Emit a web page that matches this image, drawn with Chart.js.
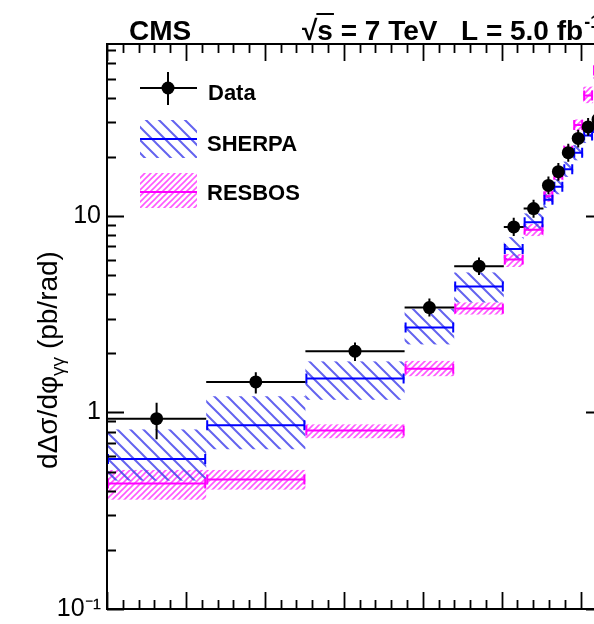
<!DOCTYPE html>
<html>
<head>
<meta charset="utf-8">
<script src="https://cdn.jsdelivr.net/npm/chart.js@4/dist/chart.umd.min.js"></script>
<style>
  body { margin: 0; background: #fff; }
  #wrap { width: 594px; height: 624px; overflow: hidden; position: relative; }
  canvas { display: block; }
</style>
</head>
<body>
<div id="wrap"><canvas id="chart" width="620" height="624"></canvas></div>
<script>
// bin edges of the delta-phi distribution, in units of pi
const binEdgesPi = [0, 0.2, 0.4, 0.6, 0.7, 0.8, 0.84, 0.88, 0.90, 0.92, 0.94, 0.96, 0.98, 1.0]

// measured cross section (pb/rad) with its error band
const dataVals = [0.93, 1.43, 2.05, 3.42, 5.55, 8.8, 10.9, 14.3, 16.8, 21.0, 24.8, 28.4, 31]
const dataLo   = [0.73, 1.25, 1.83, 3.08, 5.0, 7.9, 9.8, 12.9, 15.1, 18.9, 22.3, 25.6, 28]
const dataHi   = [1.12, 1.60, 2.27, 3.80, 6.15, 9.8, 12.1, 15.9, 18.6, 23.3, 27.5, 31.5, 34]

// SHERPA prediction: central value and band
const sherpaVals = [0.58, 0.86, 1.49, 2.71, 4.38, 6.8, 9.3, 12.1, 14.1, 17.3, 21.0, 25.7, 28]
const sherpaLo   = [0.45, 0.65, 1.16, 2.22, 3.63, 6.0, 8.4, 11.0, 12.9, 15.8, 19.2, 23.5, 25.5]
const sherpaHi   = [0.82, 1.21, 1.82, 3.37, 5.16, 7.8, 10.3, 13.3, 15.4, 18.9, 23.0, 28.1, 30.8]

// RESBOS prediction: central value and band
const resbosVals = [0.435, 0.456, 0.81, 1.67, 3.38, 6.0, 8.5, 12.6, 16.2, 21.5, 29, 41, 55]
const resbosLo   = [0.36, 0.405, 0.74, 1.53, 3.15, 5.5, 7.9, 11.8, 15.2, 20.2, 27, 37.5, 50]
const resbosHi   = [0.51, 0.51, 0.87, 1.83, 3.63, 6.4, 9.1, 13.4, 17.3, 22.9, 31, 45.5, 60]

// y axis labels
const yTickVals = [0.1, 1, 10]
const yTickLabels = ['10\u207B\u00B9', '1', '10']

const FONT = '"Liberation Sans", Arial, Helvetica, sans-serif'
const canvas = document.getElementById('chart')
const ctx0 = canvas.getContext('2d')

function hatch(color, size, lw, back) {
  const c = document.createElement('canvas')
  c.width = size; c.height = size
  const g = c.getContext('2d')
  g.strokeStyle = color
  g.lineWidth = lw
  g.beginPath()
  if (back) {
    g.moveTo(-2, -2); g.lineTo(size + 2, size + 2)
    g.moveTo(-2, size - 2); g.lineTo(2, size + 2)
    g.moveTo(size - 2, -2); g.lineTo(size + 2, 2)
  } else {
    g.moveTo(-2, size + 2); g.lineTo(size + 2, -2)
    g.moveTo(-2, 2); g.lineTo(2, -2)
    g.moveTo(size - 2, size + 2); g.lineTo(size + 2, size - 2)
  }
  g.stroke()
  return ctx0.createPattern(c, 'repeat')
}
const bluePattern = hatch('rgba(60,60,235,0.8)', 13, 2, true)
const pinkPattern = hatch('rgba(255,70,255,0.9)', 6, 1.6, false)

const edges = binEdgesPi.map(e => e * Math.PI)
const centers = dataVals.map((v, i) => (edges[i] + edges[i + 1]) / 2)

function drawBand(ctx, x, y, lo, hi, pattern) {
  ctx.fillStyle = pattern
  for (let i = 0; i < lo.length; i++) {
    const xl = x.getPixelForValue(edges[i])
    const xr = x.getPixelForValue(edges[i + 1])
    const yt = y.getPixelForValue(hi[i])
    const yb = y.getPixelForValue(lo[i])
    ctx.fillRect(xl, yt, xr - xl, yb - yt)
  }
}

function drawCentral(ctx, x, y, vals, color) {
  ctx.strokeStyle = color
  ctx.lineWidth = 2
  for (let i = 0; i < vals.length; i++) {
    const xl = x.getPixelForValue(edges[i])
    const xr = x.getPixelForValue(edges[i + 1])
    const yc = y.getPixelForValue(vals[i])
    ctx.beginPath()
    ctx.moveTo(xl, yc); ctx.lineTo(xr, yc)
    ctx.moveTo(xl + 1, yc - 5); ctx.lineTo(xl + 1, yc + 5)
    ctx.moveTo(xr - 1, yc - 5); ctx.lineTo(xr - 1, yc + 5)
    ctx.stroke()
  }
}

const histPlugin = {
  id: 'hist',
  beforeDatasetsDraw(chart) {
    const { ctx, chartArea: a, scales: { x, y } } = chart
    ctx.save()
    ctx.beginPath()
    ctx.rect(a.left, a.top, a.right - a.left, a.bottom - a.top)
    ctx.clip()
    drawBand(ctx, x, y, resbosLo, resbosHi, pinkPattern)
    drawBand(ctx, x, y, sherpaLo, sherpaHi, bluePattern)
    drawCentral(ctx, x, y, resbosVals, '#ff00ff')
    drawCentral(ctx, x, y, sherpaVals, '#0000ff')
    // data: bin width line and vertical error
    ctx.strokeStyle = '#000'
    ctx.lineWidth = 2
    for (let i = 0; i < dataVals.length; i++) {
      const xl = x.getPixelForValue(edges[i])
      const xr = x.getPixelForValue(edges[i + 1])
      const xc = x.getPixelForValue(centers[i])
      const yc = y.getPixelForValue(dataVals[i])
      ctx.beginPath()
      ctx.moveTo(xl, yc); ctx.lineTo(xr, yc)
      ctx.moveTo(xc, y.getPixelForValue(dataHi[i])); ctx.lineTo(xc, y.getPixelForValue(dataLo[i]))
      ctx.stroke()
    }
    ctx.restore()
  },
  afterDraw(chart) {
    const { ctx, chartArea: a, scales: { x, y } } = chart
    ctx.save()
    // frame
    ctx.strokeStyle = '#000'
    ctx.lineWidth = 2
    ctx.strokeRect(a.left, a.top, a.right - a.left, a.bottom - a.top)
    // ticks, pointing inward
    ctx.lineWidth = 1.8
    ctx.beginPath()
    y.ticks.forEach(t => {
      const py = Math.round(y.getPixelForValue(t.value)) + 0.5
      const len = t.major ? 17 : 9
      ctx.moveTo(a.left, py); ctx.lineTo(a.left + len, py)
      ctx.moveTo(a.right, py); ctx.lineTo(a.right - len, py)
    })
    x.ticks.forEach(t => {
      const px = Math.round(x.getPixelForValue(t.value)) + 0.5
      const len = t.major ? 17 : 9
      ctx.moveTo(px, a.bottom); ctx.lineTo(px, a.bottom - len)
      ctx.moveTo(px, a.top); ctx.lineTo(px, a.top + len)
    })
    ctx.stroke()

    // header
    ctx.fillStyle = '#000'
    ctx.textBaseline = 'alphabetic'
    ctx.textAlign = 'left'
    ctx.font = 'bold 28px ' + FONT
    ctx.fillText('CMS', 129, 40)
    const rootW = ctx.measureText('\u221A').width
    const sW = ctx.measureText('s').width
    ctx.fillText('\u221As = 7 TeV', 302, 40)
    ctx.beginPath()
    ctx.lineWidth = 2
    ctx.moveTo(302 + rootW - 1, 14); ctx.lineTo(302 + rootW + sW + 1, 14)
    ctx.stroke()
    ctx.fillText('L = 5.0 fb', 461, 40)
    const fbW = ctx.measureText('L = 5.0 fb').width
    ctx.font = 'bold 18px ' + FONT
    ctx.fillText('-1', 461 + fbW + 1, 28)

    // y axis title, rotated
    ctx.save()
    ctx.translate(57, 360)
    ctx.rotate(-Math.PI / 2)
    const big = '28px ' + FONT, small = '19px ' + FONT
    const parts = [['d\u0394\u03C3/d\u03C6', big, 0], ['\u03B3\u03B3', small, 7], [' (pb/rad)', big, 0]]
    let total = 0
    parts.forEach(p => { ctx.font = p[1]; total += ctx.measureText(p[0]).width })
    let cx = -total / 2
    parts.forEach(p => {
      ctx.font = p[1]
      ctx.fillText(p[0], cx, p[2])
      cx += ctx.measureText(p[0]).width
    })
    ctx.restore()

    // legend
    ctx.font = 'bold 22px ' + FONT
    ctx.lineWidth = 2
    ctx.beginPath()
    ctx.moveTo(140, 88); ctx.lineTo(197, 88)
    ctx.moveTo(168, 72); ctx.lineTo(168, 105)
    ctx.stroke()
    ctx.beginPath()
    ctx.arc(168, 88, 6.5, 0, Math.PI * 2)
    ctx.fill()
    ctx.fillText('Data', 208, 100)

    ctx.fillStyle = bluePattern
    ctx.fillRect(140, 120, 57, 38)
    ctx.strokeStyle = '#0000ff'
    ctx.beginPath(); ctx.moveTo(140, 139); ctx.lineTo(197, 139); ctx.stroke()
    ctx.fillStyle = pinkPattern
    ctx.fillRect(140, 173, 57, 35)
    ctx.strokeStyle = '#ff00ff'
    ctx.beginPath(); ctx.moveTo(140, 192); ctx.lineTo(197, 192); ctx.stroke()
    ctx.fillStyle = '#000'
    ctx.fillText('SHERPA', 207, 151)
    ctx.fillText('RESBOS', 207, 200)
    ctx.restore()
  }
}

const chart = new Chart(canvas, {
  type: 'scatter',
  data: {
    datasets: [{
      label: 'Data',
      data: centers.map((c, i) => ({ x: c, y: dataVals[i] })),
      pointRadius: 6.5,
      pointHoverRadius: 6.5,
      backgroundColor: '#000',
      borderColor: '#000',
      borderWidth: 0
    }]
  },
  options: {
    responsive: false,
    animation: false,
    devicePixelRatio: 1,
    layout: { padding: { top: 44, right: 17, left: 0, bottom: 0 } },
    plugins: { legend: { display: false }, tooltip: { enabled: false } },
    scales: {
      x: {
        type: 'linear',
        min: 0,
        max: Math.PI,
        grid: { display: false, drawTicks: false },
        border: { display: false },
        ticks: { display: false },
        afterBuildTicks: scale => {
          const t = []
          for (let k = 0; k <= 31; k++) t.push({ value: k / 10, major: k % 5 === 0 })
          scale.ticks = t
        },
        afterFit: scale => { scale.height = 15 }
      },
      y: {
        type: 'logarithmic',
        min: 0.1,
        max: 75,
        grid: { display: false, drawTicks: false },
        border: { display: false },
        ticks: {
          autoSkip: false,
          padding: 6,
          color: '#000',
          font: { family: FONT, size: 25, lineHeight: 0.5 },
          callback: v => {
            const i = yTickVals.findIndex(t => Math.abs(t - v) < 1e-9)
            return i >= 0 ? yTickLabels[i] : ''
          }
        },
        afterBuildTicks: scale => {
          const t = []
          yTickVals.forEach(d => {
            for (let k = 1; k <= 9; k++) {
              if (k * d <= 75) t.push({ value: k * d, major: k === 1 })
            }
          })
          scale.ticks = t
        },
        afterFit: scale => { scale.width = 107 }
      }
    }
  },
  plugins: [histPlugin]
})
</script>
</body>
</html>
